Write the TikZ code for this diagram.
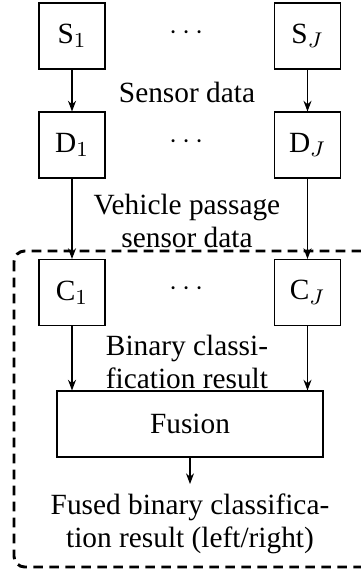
\documentclass[tikz,border=0pt]{standalone}
\usepackage{fontspec}
\setmainfont{Liberation Serif}
\usetikzlibrary{arrows.meta}
\tikzset{
  blk/.style={draw, line width=0.4pt, minimum width=24.75pt, minimum height=24.75pt, inner sep=0pt, font=\fontsize{11}{13}\selectfont},
  lbl/.style={align=center, inner sep=0pt, font=\fontsize{11}{12.2}\selectfont},
  arr/.style={-{Stealth[length=4pt,width=3pt]}, line width=0.4pt},
  grp/.style={draw, dash pattern=on 3.6pt off 2.4pt, line width=1.1pt, rounded corners=4pt}
}
\begin{document}
\begin{tikzpicture}[x=0.375pt,y=-0.375pt]
\useasboundingbox (0,0) rectangle (361,572);
\draw[grp] (14,251) rectangle (372,567);
\node[blk] (S1) at (72,36) {S$_1$};
\node[blk] (SJ) at (307.5,36) {S$_J$};
\node[lbl] (dS) at (187,33) {$\cdots$};
\node[blk] (D1) at (72,145) {D$_1$};
\node[blk] (DJ) at (307.5,145) {D$_J$};
\node[lbl] (dD) at (187,142) {$\cdots$};
\node[lbl] (t1) at (187,92) {Sensor data};
\node[lbl] (t2) at (187,221) {Vehicle passage\\sensor data};
\node[blk] (C1) at (72,292.5) {C$_1$};
\node[blk] (CJ) at (307.5,292.5) {C$_J$};
\node[lbl] (dC) at (187,289) {$\cdots$};
\node[lbl] (t3) at (187,362) {Binary classi-\\fication result};
\node[blk, minimum width=99.75pt] (F) at (190,424) {Fusion};
\coordinate (out) at (190,484);
\node[lbl] (t4) at (190,524) {Fused binary classifica-\\tion result (left/right)};
\draw[arr] (S1) -- (D1);
\draw[arr] (SJ) -- (DJ);
\draw[arr] (D1) -- (C1);
\draw[arr] (DJ) -- (CJ);
\draw[arr] (C1.south) -- (C1.south |- F.north);
\draw[arr] (CJ.south) -- (CJ.south |- F.north);
\draw[arr] (F) -- (out);
\end{tikzpicture}
\end{document}
